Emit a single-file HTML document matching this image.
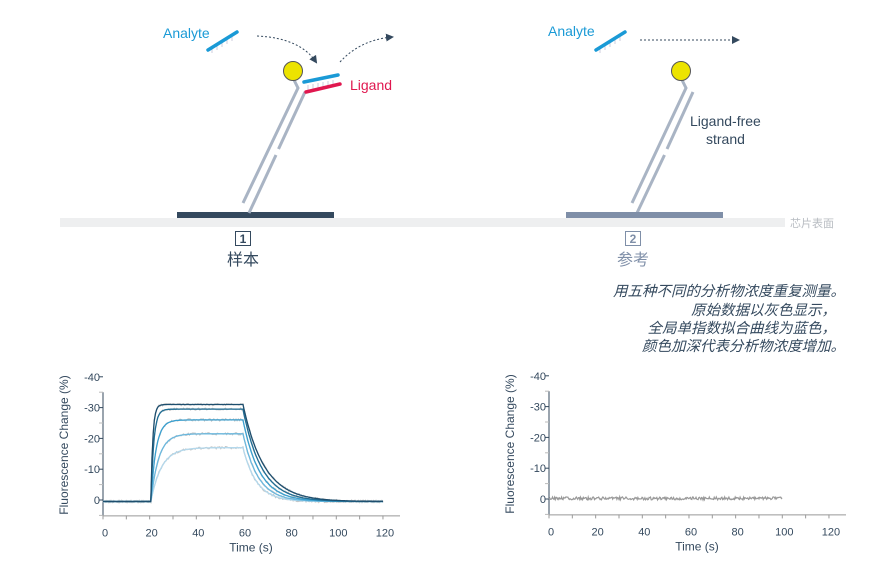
<!DOCTYPE html>
<html><head><meta charset="utf-8"><style>
body{margin:0;background:#fff;}
svg{display:block;font-family:"Liberation Sans","Noto Sans CJK SC",sans-serif;}
</style></head><body>
<svg id="s" width="888" height="573" viewBox="0 0 888 573" xmlns="http://www.w3.org/2000/svg">
<defs><marker id="ah" markerWidth="8" markerHeight="8" refX="6" refY="4" orient="auto"><path d="M0,0 L8,4 L0,8z" fill="#34495e"/></marker></defs>
<rect x="60" y="218" width="725" height="9" fill="#eeeff0"/>
<text x="790" y="227" font-size="11" fill="#b8bcc2">芯片表面</text>
<rect x="177" y="212" width="157" height="6" fill="#34495e"/>
<g stroke="#a9b4c4" stroke-width="3" fill="none" stroke-linecap="butt">
<polyline points="293,78 298,88 243,203"/>
<line x1="305" y1="92" x2="278.5" y2="149"/><line x1="276" y1="155" x2="249" y2="213"/>
<polyline points="681,78 686,88 632,203"/>
<line x1="693" y1="92" x2="667" y2="149"/><line x1="664.5" y1="155" x2="637" y2="213"/>
</g>
<g stroke="#ccd" stroke-width="1">
<path d="M308,85v5M313,84v5M318,83v5M323,82v5M328,81v5M333,80v5"/>
<path d="M212,48v5M217,45v5M222,42v5M227,39v5M232,36v5"/>
<path d="M600,48v5M605,45v5M610,42v5M615,39v5M620,36v5"/>
</g>
<circle cx="293" cy="71" r="9.5" fill="#ece300" stroke="#555" stroke-width="1"/>
<circle cx="681" cy="71" r="9.5" fill="#ece300" stroke="#555" stroke-width="1"/>
<line x1="306" y1="92" x2="340" y2="84" stroke="#e0174f" stroke-width="3.5" stroke-linecap="round"/>
<line x1="304" y1="82" x2="338" y2="75" stroke="#1a9ad6" stroke-width="3.5" stroke-linecap="round"/>
<text x="350" y="90" font-size="14" fill="#e0174f">Ligand</text>
<line x1="208" y1="50" x2="237" y2="32" stroke="#1a9ad6" stroke-width="3.5" stroke-linecap="round"/>
<line x1="596" y1="50" x2="625" y2="32" stroke="#1a9ad6" stroke-width="3.5" stroke-linecap="round"/>
<text x="163" y="38" font-size="14" fill="#1a9ad6">Analyte</text>
<text x="548" y="36" font-size="14" fill="#1a9ad6">Analyte</text>
<path d="M257,36 Q300,38 316,62" stroke="#34495e" stroke-dasharray="2,2" fill="none" marker-end="url(#ah)"/>
<path d="M340,62 Q360,40 392,37" stroke="#34495e" stroke-dasharray="2,2" fill="none" marker-end="url(#ah)"/>
<line x1="640" y1="40" x2="738" y2="40" stroke="#34495e" stroke-dasharray="2,2" marker-end="url(#ah)"/>
<text x="690" y="126" font-size="14" fill="#34495e">Ligand-free</text>
<text x="706" y="144" font-size="14" fill="#34495e">strand</text>
<rect x="566" y="212" width="157" height="6" fill="#7f8fa8"/>
<rect x="235.5" y="231.5" width="15" height="14" fill="#fff" stroke="#34495e"/>
<text x="243" y="243" font-size="12" font-weight="bold" fill="#34495e" text-anchor="middle">1</text>
<text x="243" y="265" font-size="16" fill="#34495e" text-anchor="middle">样本</text>
<rect x="625.5" y="231.5" width="15" height="14" fill="#fff" stroke="#7f8fa8"/>
<text x="633" y="243" font-size="12" font-weight="bold" fill="#7f8fa8" text-anchor="middle">2</text>
<text x="633" y="265" font-size="16" fill="#7f8fa8" text-anchor="middle">参考</text>
<g font-size="14.5" fill="#34495e" text-anchor="end" font-style="italic">
<text x="845" y="296">用五种不同的分析物浓度重复测量。</text>
<text x="836" y="315">原始数据以灰色显示，</text>
<text x="836" y="333">全局单指数拟合曲线为蓝色，</text>
<text x="845" y="351">颜色加深代表分析物浓度增加。</text>
</g>
<g id="p1"></g><g id="p2"></g>
</svg>
<script>
var NS="http://www.w3.org/2000/svg",s=document.getElementById('s');
function el(t,a,txt,par){var e=document.createElementNS(NS,t);for(var k in a)e.setAttribute(k,a[k]);if(txt!=null)e.textContent=txt;(par||s).appendChild(e);return e;}
function axes(x0,y0,id){
 var g=document.getElementById(id);
 var X=function(t){return x0+t*2.333},Y=function(v){return y0-v*3.08};
 el('line',{x1:x0,y1:Y(-5),x2:x0,y2:Y(35),stroke:'#34495e'},null,g);
 el('line',{x1:x0,y1:Y(-5)+0.5,x2:x0+297,y2:Y(-5)+0.5,stroke:'#999'},null,g);
 for(var v=-5;v<=40;v+=5){el('line',{x1:x0-4,y1:Y(v),x2:x0,y2:Y(v),stroke:v%10?'#bbb':'#34495e'},null,g);}
 for(v=0;v<=40;v+=10){el('text',{x:x0-3,y:Y(v)+4,'font-size':11,fill:'#34495e','text-anchor':'end'},(v?'-':'')+v,g);}
 for(var t=0;t<=120;t+=10){el('line',{x1:X(t),y1:Y(-5),x2:X(t),y2:Y(-5)+4,stroke:'#999'},null,g);}
 for(t=0;t<=120;t+=20){el('text',{x:X(t)+2,y:Y(-5)+21,'font-size':11,fill:'#34495e','text-anchor':'middle'},t,g);}
 el('text',{x:x0+148,y:Y(-5)+36,'font-size':12,fill:'#34495e','text-anchor':'middle'},'Time (s)',g);
 el('text',{transform:'translate('+(x0-35)+','+(y0-55)+') rotate(-90)','font-size':12,fill:'#34495e','text-anchor':'middle'},'Fluorescence Change (%)',g);
 return [X,Y];
}
var f=axes(103,500,'p1'),X=f[0],Y=f[1];
var lv=[31,29.5,26,21.5,17],ka=[1.2,0.8,0.45,0.3,0.22],cols=['#1d4e6e','#1f6d94','#3aa0d0','#6bb8de','#b3d8ec'];
var g1=document.getElementById('p1');
function val(i,t){var b=-0.5;if(t<20.5)return b;var a=b+(lv[i]-b)*(1-Math.exp(-ka[i]*(t-20.5)));if(t<60)return a;var a60=b+(lv[i]-b)*(1-Math.exp(-ka[i]*39.5));return b+(a60-b)*Math.exp(-(0.11+0.015*i)*(t-60));}
for(var i=4;i>=0;i--){var d='';for(var t=0;t<=120;t+=0.5){d+=(t?'L':'M')+X(t).toFixed(1)+','+(Y(val(i,t))+(Math.random()-0.5)*2.2).toFixed(1);}el('path',{d:d,stroke:'#c4c4c4','stroke-width':1.2,fill:'none'},null,g1);}
for(i=4;i>=0;i--){var d='';for(var t=0;t<=120;t+=0.5){d+=(t?'L':'M')+X(t).toFixed(1)+','+Y(val(i,t)).toFixed(1);}el('path',{d:d,stroke:cols[i],'stroke-width':1.3,fill:'none'},null,g1);}
var f2=axes(549,499,'p2'),X2=f2[0],Y2=f2[1],g2=document.getElementById('p2');
var d='';for(var t=0;t<=100;t+=0.3){d+=(t?'L':'M')+X2(t).toFixed(1)+','+(Y2(0.2)+(Math.random()-0.5)*3).toFixed(1);}
el('path',{d:d,stroke:'#999','stroke-width':1.2,fill:'none'},null,g2);
</script>
</body></html>
